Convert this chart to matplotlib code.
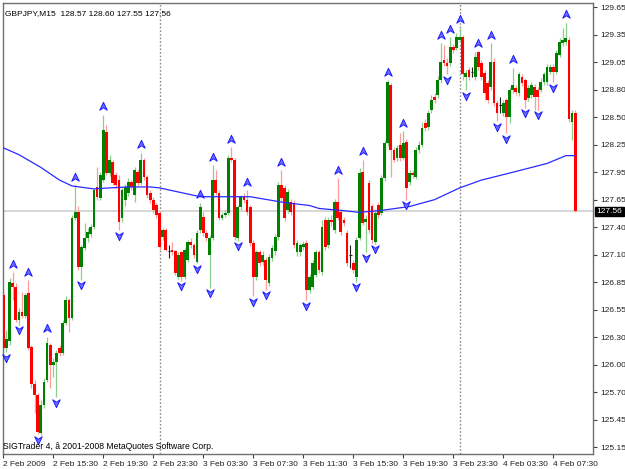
import matplotlib
matplotlib.use('Agg')
import matplotlib.pyplot as plt
import matplotlib.transforms as mtransforms
from matplotlib.path import Path
import numpy as np

# ---------------- data ----------------
symbol_title = "GBPJPY,M15  128.57 128.60 127.55 127.56"
copyright_text = "SIGTrader 4, â 2001-2008 MetaQuotes Software Corp."

opens = [126.71, 126.16, 126.23, 126.83, 126.79, 126.45, 126.53, 126.49, 126.73, 126.17,
         125.79, 125.68, 125.29, 125.58, 125.84, 126.19, 125.99, 126.02, 126.16, 126.11,
         126.42, 126.65, 126.47, 127.49, 127.55, 126.99, 127.19, 127.29, 127.33, 127.40,
         127.81, 127.70, 127.88, 128.37, 127.95, 128.07, 127.93, 127.88, 127.49, 127.68,
         127.75, 127.86, 127.73, 127.96, 127.85, 128.09, 127.91, 127.75, 127.68, 127.63,
         127.54, 127.30, 127.37, 127.16, 127.17, 127.15, 126.89, 127.14, 126.89, 127.06,
         127.25, 127.22, 127.04, 127.37, 127.50, 127.34, 127.11, 127.29, 127.88, 127.75,
         127.49, 127.52, 127.54, 128.11, 128.09, 127.29, 127.60, 127.71, 127.68, 127.60,
         127.24, 126.89, 127.14, 127.04, 127.06, 126.83, 127.08, 127.15, 127.30, 127.83,
         127.80, 127.57, 127.66, 127.65, 127.14, 127.14, 127.20, 127.24, 126.76, 126.79,
         126.91, 127.14, 126.94, 127.47, 127.22, 127.47, 127.37, 127.66, 127.55, 127.47,
         127.34, 127.11, 127.03, 126.89, 127.29, 127.96, 127.45, 127.85, 127.61, 127.25,
         127.63, 127.54, 127.90, 128.26, 128.85, 128.19, 128.11, 128.24, 128.11, 128.27,
         127.86, 127.95, 127.91, 128.19, 128.24, 128.46, 128.42, 128.60, 128.73, 128.75,
         128.90, 129.11, 129.08, 129.08, 129.24, 129.23, 129.31, 129.34, 128.93, 129.01,
         128.99, 128.93, 129.19, 129.08, 128.98, 128.87, 128.83, 129.09, 128.67, 128.65,
         128.57, 128.70, 128.53, 128.80, 128.82, 128.77, 128.93, 128.90, 128.72, 128.75,
         128.83, 128.80, 128.80, 128.88, 128.88, 128.99, 129.04, 128.99, 129.16, 129.28,
         129.29, 129.31, 128.47, 128.57]

highs = [126.76, 126.35, 126.88, 126.94, 126.83, 126.57, 126.74, 126.73, 126.86, 126.19,
         125.84, 125.70, 125.63, 125.86, 126.28, 126.21, 126.06, 126.14, 126.19, 126.45,
         126.69, 126.67, 127.52, 127.83, 127.61, 127.22, 127.44, 127.39, 127.43, 127.80,
         128.01, 127.96, 128.55, 128.44, 128.14, 128.09, 127.96, 127.93, 127.80, 127.84,
         127.90, 127.88, 128.01, 127.99, 128.16, 128.11, 127.93, 127.78, 127.71, 127.65,
         127.56, 127.39, 127.39, 127.22, 127.25, 127.17, 127.14, 127.16, 127.19, 127.27,
         127.29, 127.24, 127.37, 127.65, 127.55, 127.37, 127.32, 128.03, 127.98, 127.78,
         127.55, 127.57, 128.14, 128.22, 128.11, 127.63, 127.73, 127.75, 127.78, 127.63,
         127.27, 127.17, 127.17, 127.15, 127.09, 127.12, 127.22, 127.33, 127.86, 127.98,
         127.83, 127.79, 127.69, 127.68, 127.27, 127.24, 127.26, 127.27, 126.92, 127.06,
         127.17, 127.17, 127.47, 127.50, 127.50, 127.52, 127.69, 127.90, 127.58, 127.50,
         127.37, 127.22, 127.06, 127.30, 128.00, 128.09, 127.52, 127.88, 127.64, 127.57,
         127.66, 127.93, 128.29, 128.90, 128.87, 128.22, 128.24, 128.36, 128.38, 128.30,
         127.98, 127.98, 128.22, 128.28, 128.47, 128.50, 128.60, 128.75, 128.77, 128.94,
         129.28, 129.26, 129.13, 129.34, 129.27, 129.38, 129.44, 129.36, 129.01, 129.04,
         129.04, 129.19, 129.20, 129.11, 129.01, 128.90, 129.28, 129.13, 128.70, 128.73,
         128.70, 128.72, 128.83, 129.03, 128.85, 128.99, 128.97, 128.92, 128.85, 128.88,
         128.86, 128.83, 128.92, 128.99, 129.07, 129.07, 129.07, 129.21, 129.33, 129.44,
         129.49, 129.34, 128.60, 128.60]

lows = [126.14, 126.12, 126.19, 126.65, 126.43, 126.40, 126.47, 126.47, 126.14, 125.75,
        125.50, 125.28, 125.27, 125.55, 125.82, 125.75, 125.87, 125.66, 126.08, 126.09,
        126.40, 126.33, 126.45, 127.47, 126.96, 126.86, 127.17, 127.25, 127.30, 127.38,
        127.68, 127.68, 127.86, 127.93, 127.92, 127.83, 127.80, 127.37, 127.45, 127.61,
        127.72, 127.78, 127.66, 127.82, 127.83, 127.88, 127.70, 127.65, 127.54, 127.49,
        127.17, 127.27, 127.15, 127.08, 127.11, 126.91, 126.87, 126.85, 126.87, 127.04,
        127.19, 127.08, 127.03, 127.34, 127.31, 127.26, 126.78, 127.27, 127.73, 127.47,
        127.47, 127.50, 127.52, 128.06, 127.27, 127.26, 127.57, 127.65, 127.52, 127.21,
        126.69, 126.86, 127.00, 127.01, 126.76, 126.80, 127.05, 127.11, 127.27, 127.67,
        127.46, 127.54, 127.52, 127.19, 127.10, 127.10, 127.17, 126.65, 126.73, 126.77,
        126.89, 126.93, 126.91, 127.17, 127.19, 127.41, 127.34, 127.47, 127.32, 127.41,
        127.00, 126.98, 126.93, 126.84, 127.27, 127.42, 127.14, 127.34, 127.24, 127.23,
        127.49, 127.52, 127.87, 128.23, 127.91, 128.06, 128.08, 128.08, 128.09, 127.68,
        127.83, 127.90, 127.89, 128.16, 128.22, 128.38, 128.39, 128.57, 128.67, 128.72,
        128.87, 129.05, 128.96, 129.05, 129.18, 129.21, 129.29, 128.90, 128.80, 128.90,
        128.93, 128.90, 129.01, 128.90, 128.70, 128.67, 128.80, 128.64, 128.48, 128.57,
        128.54, 128.36, 128.46, 128.77, 128.75, 128.74, 128.84, 128.62, 128.69, 128.72,
        128.60, 128.60, 128.78, 128.85, 128.85, 128.96, 128.88, 128.96, 129.14, 129.25,
        129.26, 128.47, 128.29, 127.55]

closes = [126.16, 126.25, 126.84, 126.79, 126.45, 126.53, 126.49, 126.71, 126.16, 125.79,
          125.68, 125.30, 125.58, 125.82, 126.21, 125.99, 126.02, 126.11, 126.11, 126.42,
          126.65, 126.47, 127.49, 127.55, 126.99, 127.20, 127.29, 127.35, 127.40, 127.78,
          127.71, 127.93, 128.39, 127.95, 128.09, 127.85, 127.83, 127.45, 127.78, 127.81,
          127.86, 127.81, 127.98, 127.85, 128.09, 127.91, 127.73, 127.68, 127.57, 127.52,
          127.20, 127.37, 127.17, 127.16, 127.14, 126.93, 127.11, 126.89, 127.17, 127.25,
          127.22, 127.11, 127.34, 127.60, 127.34, 127.29, 127.29, 127.88, 127.75, 127.49,
          127.52, 127.54, 128.11, 128.09, 127.30, 127.60, 127.71, 127.68, 127.55, 127.24,
          126.89, 127.14, 127.03, 127.11, 126.86, 127.09, 127.19, 127.30, 127.83, 127.70,
          127.49, 127.76, 127.55, 127.22, 127.24, 127.22, 127.23, 126.76, 126.89, 127.03,
          127.14, 126.96, 127.40, 127.20, 127.47, 127.45, 127.66, 127.49, 127.35, 127.44,
          127.03, 127.11, 126.96, 127.27, 127.95, 127.44, 127.48, 127.37, 127.27, 127.54,
          127.52, 127.90, 128.26, 128.88, 128.19, 128.09, 128.21, 128.11, 128.26, 127.80,
          127.95, 127.93, 128.19, 128.24, 128.41, 128.41, 128.57, 128.70, 128.70, 128.90,
          129.09, 129.08, 129.05, 129.24, 129.21, 129.34, 129.34, 128.96, 128.98, 128.93,
          128.99, 129.14, 129.04, 128.93, 128.77, 128.70, 129.09, 128.67, 128.57, 128.65,
          128.67, 128.53, 128.80, 128.85, 128.78, 128.96, 128.87, 128.70, 128.82, 128.85,
          128.73, 128.73, 128.88, 128.96, 129.04, 129.04, 128.99, 129.18, 129.29, 129.31,
          129.33, 128.50, 128.57, 127.56]

up_fractal_bars = [3, 8, 14, 23, 32, 44, 63, 67, 73, 78, 89, 107, 115, 123, 128,
                   140, 143, 146, 152, 156, 163, 180]
down_fractal_bars = [1, 5, 11, 17, 25, 37, 57, 62, 66, 75, 80, 84, 97, 113, 116,
                     119, 129, 142, 148, 158, 161, 167, 171, 176]

ma_bars = [0, 5, 12, 18, 22, 29, 34, 40, 47, 50, 63, 79, 90, 98, 101, 108, 114,
           121, 130, 138, 146, 153, 163, 174, 180, 183]
ma_values = [128.21, 128.14, 128.01, 127.88, 127.82, 127.79, 127.80, 127.81, 127.81,
             127.80, 127.71, 127.71, 127.65, 127.62, 127.59, 127.57, 127.55, 127.57,
             127.61, 127.68, 127.80, 127.88, 127.96, 128.05, 128.13, 128.13]

last_price = 127.56
separator_bars = [50, 146]
xtick_bars = [0, 16, 32, 48, 64, 80, 96, 112, 128, 144, 160, 176]
xtick_labels = ["2 Feb 2009", "2 Feb 15:30", "2 Feb 19:30", "2 Feb 23:30",
                "3 Feb 03:30", "3 Feb 07:30", "3 Feb 11:30", "3 Feb 15:30",
                "3 Feb 19:30", "3 Feb 23:30", "4 Feb 03:30", "4 Feb 07:30"]
ytick_labels = ["129.65", "129.35", "129.05", "128.80", "128.50", "128.25", "127.95",
                "127.65", "127.40", "127.10", "126.85", "126.55", "126.30", "126.00",
                "125.70", "125.45", "125.15"]

# ---------------- figure ----------------
FONT = 'Liberation Sans'
plt.rcParams['font.family'] = [FONT, 'DejaVu Sans']

W, H = 625, 469
fig = plt.figure(figsize=(W / 100, H / 100), dpi=100)
fig.patch.set_facecolor('white')
ax = fig.add_axes([3 / W, (H - 454) / H, 590 / W, 451 / H])
ax.set_facecolor('white')

ax.set_xlim(-0.1, 188.7)
ax.set_ylim(125.079, 129.691)

o = np.array(opens); h = np.array(highs); l = np.array(lows); c = np.array(closes)
idx = np.arange(len(c))
up = c > o
dn = c < o
dj = c == o

# separators & price line (behind)
for b in separator_bars:
    ax.axvline(b, color='#8a8a8a', lw=1.0, ls=(0, (1.2, 1.4)), zorder=1)
ax.axhline(last_price, color='#cfcfcf', lw=1.2, zorder=1)

# wicks
ax.vlines(idx[up], l[up], h[up], color='#8ccf8c', lw=0.9, zorder=2)
ax.vlines(idx[dn], l[dn], h[dn], color='#ff9a9a', lw=0.9, zorder=2)
ax.vlines(idx[dj], l[dj], h[dj], color='#202020', lw=0.8, zorder=2)

# bodies
bottom = np.minimum(o, c)
height = np.maximum(np.abs(c - o), 0.012)
ax.bar(idx[up], height[up], bottom=bottom[up], width=0.85, color='#008000',
       linewidth=0, zorder=3)
ax.bar(idx[dn], height[dn], bottom=bottom[dn], width=0.85, color='#ff0000',
       linewidth=0, zorder=3)
ax.hlines(o[dj], idx[dj] - 0.45, idx[dj] + 0.45, color='#202020', lw=0.8, zorder=3)

# moving average
ax.plot(ma_bars, ma_values, color='#2a2aff', lw=0.9, zorder=4)

# fractal arrows
up_path = Path([(0, 1.0), (0.9, -0.9), (0, -0.3), (-0.9, -0.9), (0, 1.0)],
               [Path.MOVETO, Path.LINETO, Path.LINETO, Path.LINETO, Path.CLOSEPOLY])
dn_path = Path([(0, -1.0), (0.9, 0.9), (0, 0.3), (-0.9, 0.9), (0, -1.0)],
               [Path.MOVETO, Path.LINETO, Path.LINETO, Path.LINETO, Path.CLOSEPOLY])
tr_up = mtransforms.offset_copy(ax.transData, fig=fig, x=0, y=6, units='points')
tr_dn = mtransforms.offset_copy(ax.transData, fig=fig, x=0, y=-4, units='points')
ub = np.array(up_fractal_bars)
db = np.array(down_fractal_bars)
ax.plot(ub, h[ub], ls='none', marker=up_path, ms=6, mfc='#7070ff',
        mec='#1a1aff', mew=0.7, transform=tr_up, zorder=5, clip_on=False)
ax.plot(db, l[db], ls='none', marker=dn_path, ms=6, mfc='#7070ff',
        mec='#1a1aff', mew=0.7, transform=tr_dn, zorder=5, clip_on=False)

# axes styling
for sp in ax.spines.values():
    sp.set_color('#707070')
    sp.set_linewidth(1.0)

ax.yaxis.tick_right()
ax.set_yticks(np.linspace(129.65, 125.15, len(ytick_labels)))
ax.set_yticklabels(ytick_labels)
ax.tick_params(axis='y', direction='out', length=3, width=0.8, color='#404040',
               pad=2, labelsize=6, labelcolor='#202020')

ax.set_xticks(xtick_bars)
ax.set_xticklabels(xtick_labels)
ax.tick_params(axis='x', direction='out', length=3, width=0.8, color='#404040',
               pad=2, labelsize=6, labelcolor='#202020')
for lbl in ax.get_xticklabels():
    lbl.set_horizontalalignment('left')

# last price label box
ax.text(1.006, last_price, "127.56", transform=ax.get_yaxis_transform(),
        ha='left', va='center', fontsize=6, color='white', zorder=6,
        bbox=dict(boxstyle='square,pad=0.15', fc='black', ec='black'), clip_on=False)

# texts
ax.text(0.004, 0.984, symbol_title, transform=ax.transAxes, ha='left', va='top',
        fontsize=6, color='black', zorder=6)
ax.text(0.0, 0.006, copyright_text, transform=ax.transAxes, ha='left', va='bottom',
        fontsize=6.2, color='black', zorder=6)

fig.savefig('out.png', dpi=100, facecolor='white')
